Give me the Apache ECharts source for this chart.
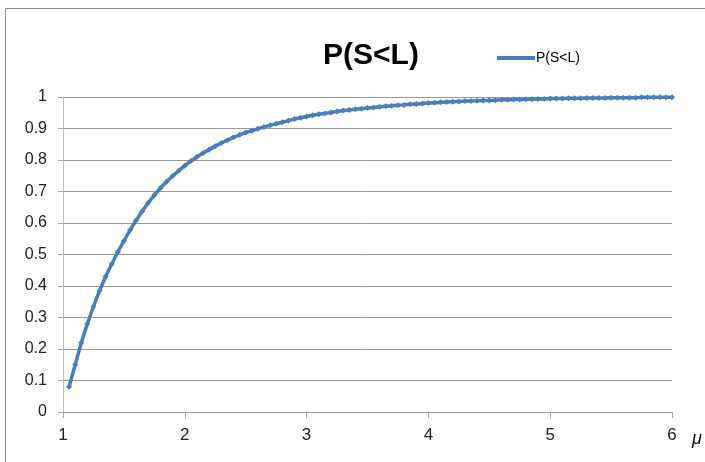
<!DOCTYPE html>
<html>
<head>
<meta charset="utf-8">
<script src="https://cdn.jsdelivr.net/npm/echarts@6/dist/echarts.min.js"></script>
<style>
  html, body { margin: 0; padding: 0; background: #fff; }
  #chart { width: 705px; height: 462px; }
</style>
</head>
<body>
<div id="chart"></div>
<script>
// μ 取值 (步长 0.05)
const muValues = [
  1.05, 1.10, 1.15, 1.20, 1.25, 1.30, 1.35, 1.40, 1.45, 1.50,
  1.55, 1.60, 1.65, 1.70, 1.75, 1.80, 1.85, 1.90, 1.95, 2.00,
  2.05, 2.10, 2.15, 2.20, 2.25, 2.30, 2.35, 2.40, 2.45, 2.50,
  2.55, 2.60, 2.65, 2.70, 2.75, 2.80, 2.85, 2.90, 2.95, 3.00,
  3.05, 3.10, 3.15, 3.20, 3.25, 3.30, 3.35, 3.40, 3.45, 3.50,
  3.55, 3.60, 3.65, 3.70, 3.75, 3.80, 3.85, 3.90, 3.95, 4.00,
  4.05, 4.10, 4.15, 4.20, 4.25, 4.30, 4.35, 4.40, 4.45, 4.50,
  4.55, 4.60, 4.65, 4.70, 4.75, 4.80, 4.85, 4.90, 4.95, 5.00,
  5.05, 5.10, 5.15, 5.20, 5.25, 5.30, 5.35, 5.40, 5.45, 5.50,
  5.55, 5.60, 5.65, 5.70, 5.75, 5.80, 5.85, 5.90, 5.95, 6.00
]

// P(S<L) 读图估计值
const pValues = [
  0.080, 0.150, 0.220, 0.280, 0.335, 0.385, 0.430, 0.470, 0.508, 0.543,
  0.577, 0.608, 0.637, 0.664, 0.689, 0.711, 0.731, 0.749, 0.766, 0.782,
  0.797, 0.810, 0.822, 0.833, 0.844, 0.854, 0.863, 0.872, 0.880, 0.887,
  0.893, 0.899, 0.905, 0.910, 0.915, 0.920, 0.925, 0.930, 0.934, 0.938,
  0.942, 0.945, 0.948, 0.951, 0.954, 0.957, 0.959, 0.961, 0.963, 0.965,
  0.967, 0.969, 0.971, 0.972, 0.974, 0.975, 0.977, 0.978, 0.979, 0.981,
  0.982, 0.983, 0.984, 0.985, 0.986, 0.987, 0.987, 0.988, 0.989, 0.989,
  0.990, 0.991, 0.991, 0.992, 0.992, 0.993, 0.993, 0.994, 0.994, 0.995,
  0.995, 0.995, 0.996, 0.996, 0.996, 0.997, 0.997, 0.997, 0.997, 0.998,
  0.998, 0.998, 0.998, 0.998, 0.999, 0.999, 0.999, 0.999, 0.999, 0.999
]

const seriesName = 'P(S<L)'
const fontFamily = '"Liberation Sans Narrow", "Liberation Sans", Arial, sans-serif'

const chart = echarts.init(document.getElementById('chart'), null, { renderer: 'canvas' })

const option = {
  animation: false,
  backgroundColor: '#fff',
  title: {
    text: 'P(S<L)',
    left: 366,
    top: 36,
    textAlign: 'center',
    textStyle: { fontFamily, fontSize: 30, fontWeight: 'bold', color: '#000' }
  },
  legend: {
    data: [seriesName],
    left: 492,
    top: 46,
    itemWidth: 38,
    itemHeight: 4,
    itemGap: 4,
    icon: 'rect',
    textStyle: { fontFamily, fontSize: 14, color: '#000', padding: [0, 0, 0, -4] }
  },
  grid: { left: 63, top: 97, width: 609, height: 315, containLabel: false },
  xAxis: {
    type: 'value',
    min: 1,
    max: 6,
    interval: 1,
    name: 'μ',
    nameLocation: 'end',
    nameGap: 20,
    nameTextStyle: { fontFamily, fontSize: 18, fontStyle: 'italic', color: '#000', verticalAlign: 'top', padding: [18, 0, 0, 0] },
    axisLine: { lineStyle: { color: '#a6a6a6', width: 1 } },
    axisTick: { show: true, length: 6, lineStyle: { color: '#a6a6a6' } },
    axisLabel: { fontFamily, fontSize: 17, color: '#222', margin: 15 },
    splitLine: { show: false }
  },
  yAxis: {
    type: 'value',
    min: 0,
    max: 1,
    interval: 0.1,
    axisLine: { show: true, lineStyle: { color: '#bdbdbd', width: 1 } },
    axisTick: { show: true, length: 5, lineStyle: { color: '#a6a6a6' } },
    axisLabel: {
      fontFamily, fontSize: 16, color: '#222', margin: 16,
      formatter: v => String(+v.toFixed(1))
    },
    splitLine: { show: true, lineStyle: { color: '#9a9a9a', width: 1 } }
  },
  graphic: [
    {
      type: 'rect',
      shape: { x: 5.5, y: 8.5, width: 720, height: 470 },
      style: { fill: 'none', stroke: '#8c8c8c', lineWidth: 1 },
      silent: true
    }
  ],
  series: [
    {
      name: seriesName,
      type: 'line',
      data: muValues.map((m, i) => [m, pValues[i]]),
      smooth: false,
      symbol: 'diamond',
      symbolSize: 6,
      showSymbol: true,
      itemStyle: { color: '#4a7ebb' },
      lineStyle: { color: '#4a7ebb', width: 3.5 }
    }
  ]
}

chart.setOption(option)
</script>
</body>
</html>
